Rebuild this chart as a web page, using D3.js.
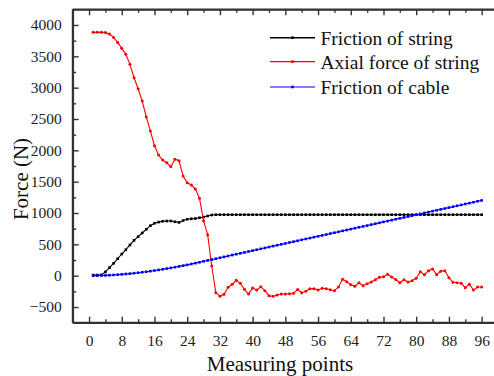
<!DOCTYPE html>
<html><head><meta charset="utf-8">
<script src="https://cdn.jsdelivr.net/npm/d3@7"></script>
<style>body{margin:0;background:#fff}svg{display:block}text{font-family:'Liberation Serif','Times New Roman',serif}</style>
</head><body>
<svg id="c" width="494" height="376"></svg>
<script>
const seriesNames = ["Friction of string", "Axial force of string", "Friction of cable"];
const seriesColors = ["#000000", "#ff0000", "#0000ff"];
const frictionString = [10,10,12,60,128,197,271,346,415,490,565,622,681,740,798,836,855,868,872,873,860,850,880,900,907,913,924,936,952,968,
973,973,973,973,973,973,973,973,973,973,973,973,973,973,973,973,973,973,973,973,973,973,973,973,973,973,973,973,973,973,973,973,973,973,973,973,
973,973,973,973,973,973,973,973,973,973,973,973,973,973,973,973,973,973,973,973,973,973,973,973,973,973,973,973,973,973];
const axialString = [3882,3882,3882,3878,3855,3802,3722,3627,3531,3372,3158,2983,2786,2531,2310,2073,1925,1845,1802,1738,1857,1834,1590,1483,1447,1383,1234,875,655,155,
-271,-329,-297,-185,-137,-73,-121,-217,-292,-196,-228,-175,-239,-319,-329,-308,-292,-292,-287,-281,-220,-271,-249,-207,-207,-228,-201,-207,-223,-239,
-180,-57,-96,-144,-169,-112,-160,-128,-100,-64,-26,-16,22,-20,-60,-112,-64,-100,-80,-42,64,16,80,107,16,70,80,-32,-105,-112,-121,-191,-137,-228,-180,-180];
const frictionCable = [0,1,3,5,8,12,16,21,27,33,40,47,55,63,72,82,92,102,113,124,136,148,160,173,186,200,214,229,243,257,
271,286,300,314,329,343,357,371,386,400,414,429,443,457,472,486,500,514,529,543,557,572,586,600,615,629,643,657,672,686,
700,715,729,743,758,772,786,800,815,829,843,858,872,886,901,915,929,943,958,972,986,1001,1015,1029,1044,1058,1072,1086,1101,1115,1129,1144,1158,1172,1187,1201];
const xTicks = [0,8,16,24,32,40,48,56,64,72,80,88,96];
const yTicks = [-500,0,500,1000,1500,2000,2500,3000,3500,4000];

const svg = d3.select("#c");
const L = 72.7, R = 498, T = 9.3, B = 322.7;
const x = d3.scaleLinear().domain([-4, 100]).range([L, R]);
const y = d3.scaleLinear().domain([-750, 4250]).range([B, T]);
const font = "'Liberation Serif','Times New Roman',serif";
const axisColor = "#333";

const allSeries = [frictionString, axialString, frictionCable];
const idx = d3.range(1, 97);

const xMinor = d3.range(4, 100, 8);
const yMinor = d3.range(-250, 4250, 500);
const fmt = d3.format("d");

const g = svg.append("g");
const xb = g.append("g").attr("transform", `translate(0,${B})`)
  .call(d3.axisBottom(x).tickValues(xTicks).tickFormat(fmt).tickSize(-6).tickPadding(12).tickSizeOuter(0));
g.append("g").attr("transform", `translate(0,${B})`)
  .call(d3.axisBottom(x).tickValues(xMinor).tickSize(-3.5).tickFormat("").tickSizeOuter(0));
const xt = g.append("g").attr("transform", `translate(0,${T})`)
  .call(d3.axisTop(x).tickValues(xTicks).tickSize(-6).tickFormat("").tickSizeOuter(0));
g.append("g").attr("transform", `translate(0,${T})`)
  .call(d3.axisTop(x).tickValues(xMinor).tickSize(-3.5).tickFormat("").tickSizeOuter(0));
const yl = g.append("g").attr("transform", `translate(${L},0)`)
  .call(d3.axisLeft(y).tickValues(yTicks).tickFormat(fmt).tickSize(-6).tickPadding(11).tickSizeOuter(0));
g.append("g").attr("transform", `translate(${L},0)`)
  .call(d3.axisLeft(y).tickValues(yMinor).tickSize(-3.5).tickFormat("").tickSizeOuter(0));

g.selectAll("g").attr("font-family", font);
g.selectAll(".domain").attr("stroke", axisColor).attr("stroke-width", 1.8);
g.selectAll(".tick line").attr("stroke", axisColor).attr("stroke-width", 1.4);
g.selectAll(".tick text").attr("fill", "#222").attr("font-family", font).style("font-family", font).style("font-size", "15.5px");
xb.select(".domain").attr("d", `M${L},0H${R}`);
xt.select(".domain").attr("d", `M${L},0H${R}`);
yl.select(".domain").attr("d", `M0,${B}V${T}`);

const line = d3.line().x((d, i) => x(idx[i])).y(d => y(d));
allSeries.forEach((s, k) => {
  svg.append("path").datum(s).attr("d", line).attr("fill", "none")
    .attr("stroke", seriesColors[k]).attr("stroke-width", 1.1);
  const m = svg.append("g");
  if (k === 1) {
    m.selectAll("circle").data(s).join("circle")
      .attr("cx", (d, i) => x(idx[i])).attr("cy", d => y(d)).attr("r", 1.5)
      .attr("fill", seriesColors[k]);
  } else {
    m.selectAll("rect").data(s).join("rect")
      .attr("x", (d, i) => x(idx[i]) - 1.3).attr("y", d => y(d) - 1.3)
      .attr("width", 2.6).attr("height", 2.6).attr("fill", seriesColors[k]);
  }
});

const legY = [37.7, 61.7, 87];
seriesNames.forEach((n, k) => {
  const lg = svg.append("g");
  lg.append("line").attr("x1", 270).attr("x2", 315).attr("y1", legY[k]).attr("y2", legY[k])
    .attr("stroke", seriesColors[k]).attr("stroke-width", k === 0 ? 1.6 : 1.2);
  lg.append("rect").attr("x", 291.2).attr("y", legY[k] - 1.3).attr("width", 2.6).attr("height", 2.6)
    .attr("fill", seriesColors[k]);
  lg.append("text").attr("x", 320.5).attr("y", legY[k]).attr("dy", "0.35em")
    .style("font-family", font).style("font-size", "19.5px").attr("fill", "#111").text(n);
});

svg.append("text").attr("x", 280).attr("y", 371).attr("text-anchor", "middle")
  .style("font-family", font).style("font-size", "21px").attr("fill", "#111").text("Measuring points");
svg.append("text").attr("transform", "translate(28,179) rotate(-90)").attr("text-anchor", "middle")
  .style("font-family", font).style("font-size", "21px").attr("fill", "#111").text("Force (N)");
</script>
</body></html>
